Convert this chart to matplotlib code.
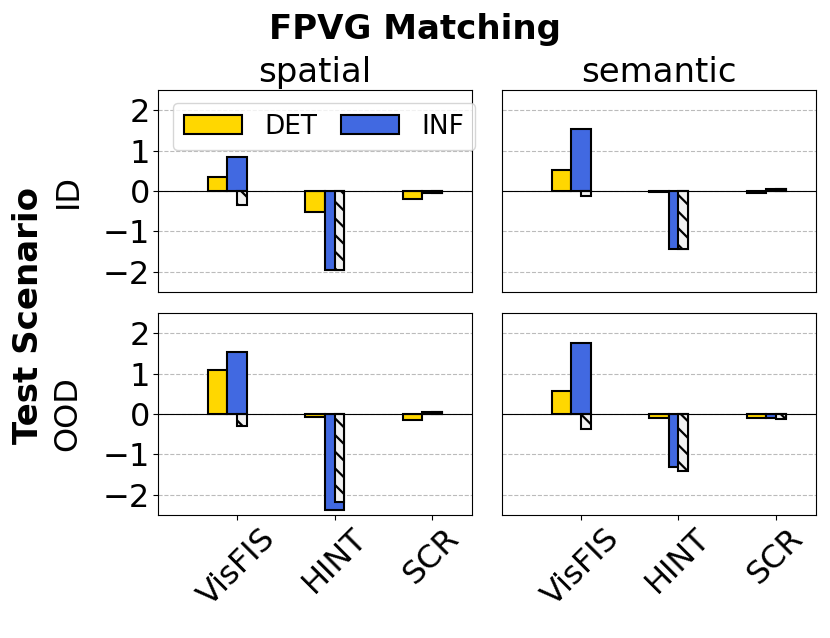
import numpy as np
import matplotlib
matplotlib.use("Agg")
import matplotlib.pyplot as plt

methods = ["VisFIS", "HINT", "SCR"]
columns = ["spatial", "semantic"]
rows = ["ID", "OOD"]

# DET, INF and the hatched (unlabelled) series, per panel (row, col)
det_vals = {
    ("ID", "spatial"): [0.35, -0.53, -0.19],
    ("ID", "semantic"): [0.52, -0.02, -0.04],
    ("OOD", "spatial"): [1.08, -0.07, -0.14],
    ("OOD", "semantic"): [0.58, -0.11, -0.10],
}
inf_vals = {
    ("ID", "spatial"): [0.85, -1.95, -0.05],
    ("ID", "semantic"): [1.53, -1.44, 0.05],
    ("OOD", "spatial"): [1.53, -2.37, 0.05],
    ("OOD", "semantic"): [1.77, -1.30, -0.11],
}
hatch_vals = {
    ("ID", "spatial"): [-0.34, -1.95, -0.05],
    ("ID", "semantic"): [-0.12, -1.44, 0.05],
    ("OOD", "spatial"): [-0.29, -2.17, 0.04],
    ("OOD", "semantic"): [-0.38, -1.41, -0.12],
}

TICK_FS = 23
TITLE_FS = 24.5
plt.rcParams['font.size'] = TICK_FS
plt.rcParams['hatch.linewidth'] = 1.6

fig, axes = plt.subplots(2, 2, figsize=(8.3, 6.38), dpi=100)
plt.subplots_adjust(left=0.1904, right=0.9831, top=0.8589, bottom=0.1928,
                    wspace=0.0955, hspace=0.104)

x = np.arange(len(methods))
w = 0.2
for i, r in enumerate(rows):
    for j, c in enumerate(columns):
        ax = axes[i, j]
        ax.set_axisbelow(True)
        ax.yaxis.grid(True, linestyle='--', color='#bbbbbb', linewidth=0.8)
        ax.bar(x - w, det_vals[(r, c)], width=w, color='gold', edgecolor='black',
               linewidth=1.5, label='DET')
        ax.bar(x, inf_vals[(r, c)], width=w, color='royalblue', edgecolor='black',
               linewidth=1.5, label='INF')
        ax.bar(x + w / 4, hatch_vals[(r, c)], width=w / 2, color='#f2f2f2',
               edgecolor='black', linewidth=1.5, hatch='\\\\')
        ax.axhline(0, color='black', linewidth=0.8)
        ax.set_ylim(-2.5, 2.5)
        ax.set_xlim(-0.81, 2.41)
        ax.set_yticks([-2, -1, 0, 1, 2])
        ax.set_xticks(x)
        if i == 0:
            ax.set_title(c, fontsize=TITLE_FS, pad=6)
            ax.tick_params(bottom=False, labelbottom=False)
        else:
            ax.set_xticklabels(methods, rotation=45, ha='center')
        if j == 0:
            ax.set_ylabel(r, fontsize=TICK_FS, labelpad=14)
        else:
            ax.tick_params(left=False, labelleft=False)
        ax.tick_params(axis='both', pad=2)

axes[0, 0].legend(loc='upper left', bbox_to_anchor=(0.048, 0.935), borderaxespad=0,
                  ncol=2, fontsize=19, handlelength=2.2, handletextpad=0.85,
                  columnspacing=0.9)

fig.suptitle("FPVG Matching", fontweight='bold', fontsize=TITLE_FS, y=0.98)
fig.text(0.034, 0.505, "Test Scenario", fontweight='bold', fontsize=TITLE_FS,
         rotation=90, ha='center', va='center')

fig.savefig("out.png", dpi=100)
